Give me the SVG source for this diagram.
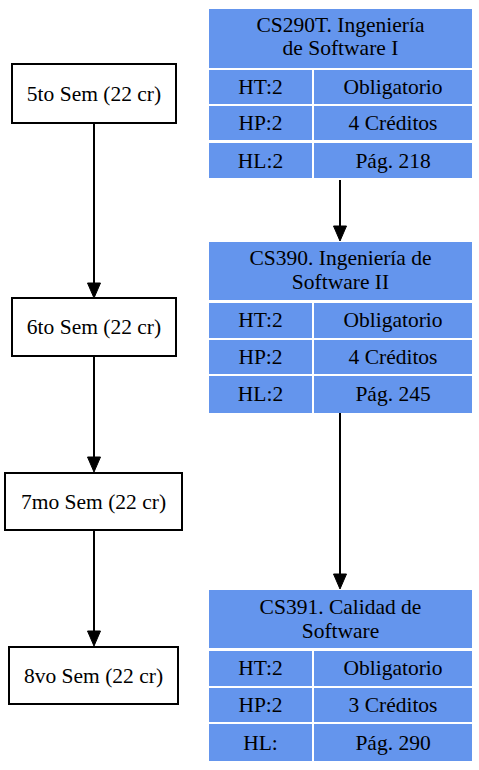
<svg xmlns="http://www.w3.org/2000/svg" width="479" height="770" viewBox="0 0 479 770">
<style>
text{font-family:"Liberation Serif","Times New Roman",serif;font-size:21.5px;fill:#000;text-anchor:middle}
.sem{fill:#fff;stroke:#000;stroke-width:2}
.cell{fill:#6495ED}
.edge{stroke:#000;stroke-width:2;fill:none}
.head{fill:#000;stroke:#000;stroke-width:1}
</style>
<rect width="479" height="770" fill="#fff"/>
<g id="connectors">
<line class="edge" x1="94" y1="123" x2="94" y2="284"/>
<polygon class="head" points="87.5,283 100.5,283 94,298"/>
<line class="edge" x1="94" y1="356" x2="94" y2="458"/>
<polygon class="head" points="87.5,457 100.5,457 94,472"/>
<line class="edge" x1="94" y1="530" x2="94" y2="632"/>
<polygon class="head" points="87.5,631 100.5,631 94,646"/>
<line class="edge" x1="340" y1="180" x2="340" y2="227"/>
<polygon class="head" points="333.5,226 346.5,226 340,241"/>
<line class="edge" x1="340" y1="413" x2="340" y2="575"/>
<polygon class="head" points="333.5,574 346.5,574 340,589"/>
</g>
<g id="sem5">
<rect class="sem" x="12" y="64" width="164" height="59"/>
<text x="94" y="101">5to Sem (22 cr)</text>
</g>
<g id="sem6">
<rect class="sem" x="12" y="298" width="164" height="58"/>
<text x="94" y="334">6to Sem (22 cr)</text>
</g>
<g id="sem7">
<rect class="sem" x="5" y="473" width="177" height="57"/>
<text x="93.5" y="509">7mo Sem (22 cr)</text>
</g>
<g id="sem8">
<rect class="sem" x="9" y="647" width="169" height="57"/>
<text x="93.5" y="683">8vo Sem (22 cr)</text>
</g>
<g id="CS290T">
<rect class="cell" x="209" y="9" width="263" height="59"/>
<rect class="cell" x="209" y="70" width="103" height="34"/>
<rect class="cell" x="314" y="70" width="158" height="34"/>
<rect class="cell" x="209" y="106" width="103" height="34"/>
<rect class="cell" x="314" y="106" width="158" height="34"/>
<rect class="cell" x="209" y="143" width="103" height="35"/>
<rect class="cell" x="314" y="143" width="158" height="35"/>
<text x="340.5" y="32">CS290T. Ingeniería</text>
<text x="340.5" y="55">de Software I</text>
<text x="260.5" y="94">HT:2</text>
<text x="393" y="94">Obligatorio</text>
<text x="260.5" y="130">HP:2</text>
<text x="393" y="130">4 Créditos</text>
<text x="260.5" y="168">HL:2</text>
<text x="393" y="168">Pág. 218</text>
</g>
<g id="CS390">
<rect class="cell" x="209" y="242" width="263" height="58"/>
<rect class="cell" x="209" y="303" width="103" height="35"/>
<rect class="cell" x="314" y="303" width="158" height="35"/>
<rect class="cell" x="209" y="340" width="103" height="34"/>
<rect class="cell" x="314" y="340" width="158" height="34"/>
<rect class="cell" x="209" y="376" width="103" height="37"/>
<rect class="cell" x="314" y="376" width="158" height="37"/>
<text x="340.5" y="265">CS390. Ingeniería de</text>
<text x="340.5" y="289">Software II</text>
<text x="260.5" y="327">HT:2</text>
<text x="393" y="327">Obligatorio</text>
<text x="260.5" y="364">HP:2</text>
<text x="393" y="364">4 Créditos</text>
<text x="260.5" y="401">HL:2</text>
<text x="393" y="401">Pág. 245</text>
</g>
<g id="CS391">
<rect class="cell" x="209" y="590" width="263" height="58"/>
<rect class="cell" x="209" y="651" width="103" height="35"/>
<rect class="cell" x="314" y="651" width="158" height="35"/>
<rect class="cell" x="209" y="688" width="103" height="34"/>
<rect class="cell" x="314" y="688" width="158" height="34"/>
<rect class="cell" x="209" y="724" width="103" height="37"/>
<rect class="cell" x="314" y="724" width="158" height="37"/>
<text x="340.5" y="614">CS391. Calidad de</text>
<text x="340.5" y="638">Software</text>
<text x="260.5" y="675">HT:2</text>
<text x="393" y="675">Obligatorio</text>
<text x="260.5" y="712">HP:2</text>
<text x="393" y="712">3 Créditos</text>
<text x="260.5" y="750">HL:</text>
<text x="393" y="750">Pág. 290</text>
</g>
</svg>
